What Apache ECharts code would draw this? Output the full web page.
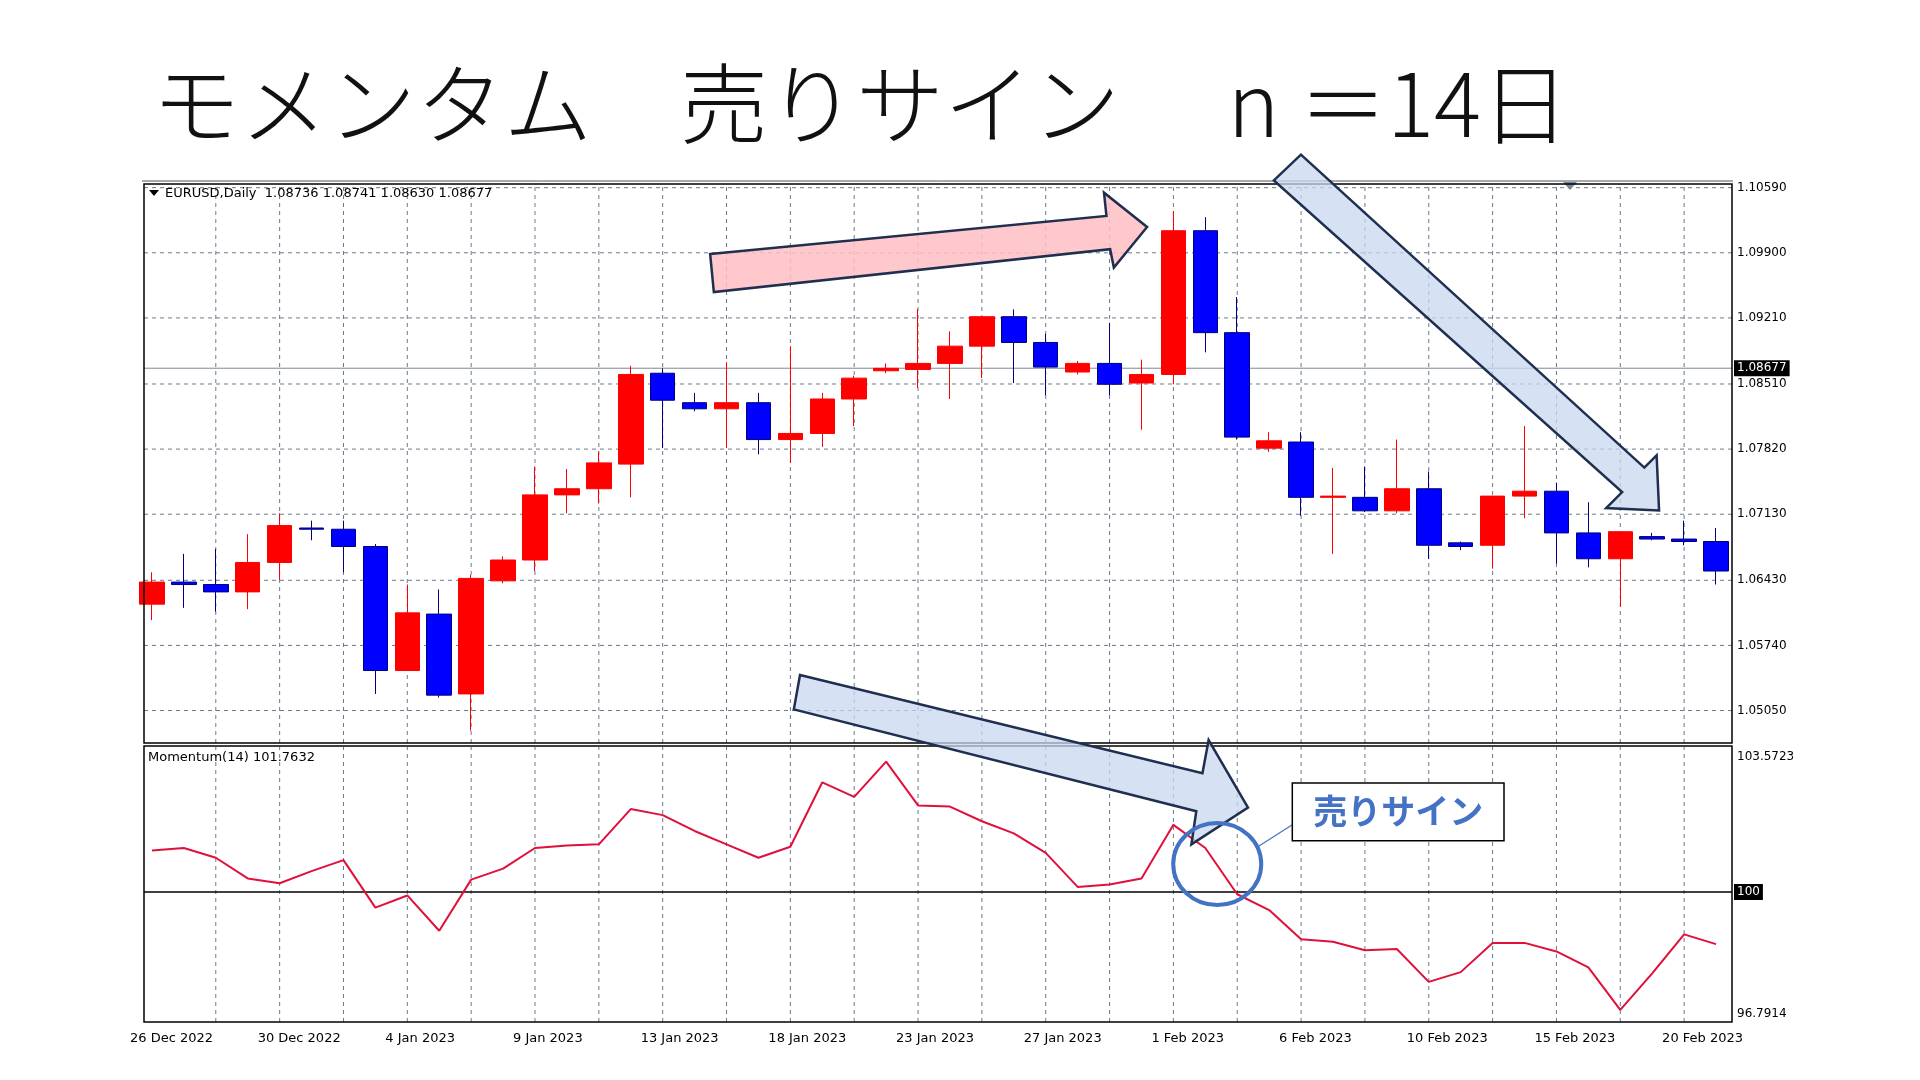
<!DOCTYPE html>
<html><head><meta charset="utf-8">
<script src="https://cdn.jsdelivr.net/npm/echarts@6/dist/echarts.min.js"></script>
<style>html,body{margin:0;padding:0;background:#fff}#c{width:1920px;height:1080px}</style>
</head><body><div id="c"></div>
<script>
const categories = ['26 Dec 2022','27 Dec 2022','28 Dec 2022','29 Dec 2022','30 Dec 2022','1 Jan 2023','2 Jan 2023','3 Jan 2023',
'4 Jan 2023','5 Jan 2023','6 Jan 2023','8 Jan 2023','9 Jan 2023','10 Jan 2023','11 Jan 2023','12 Jan 2023',
'13 Jan 2023','15 Jan 2023','16 Jan 2023','17 Jan 2023','18 Jan 2023','19 Jan 2023','20 Jan 2023','22 Jan 2023',
'23 Jan 2023','24 Jan 2023','25 Jan 2023','26 Jan 2023','27 Jan 2023','29 Jan 2023','30 Jan 2023','31 Jan 2023',
'1 Feb 2023','2 Feb 2023','3 Feb 2023','5 Feb 2023','6 Feb 2023','7 Feb 2023','8 Feb 2023','9 Feb 2023',
'10 Feb 2023','12 Feb 2023','13 Feb 2023','14 Feb 2023','15 Feb 2023','16 Feb 2023','17 Feb 2023','19 Feb 2023',
'20 Feb 2023','21 Feb 2023'];
// [open, close, low, high]
const ohlc = [
[1.06177,1.06411,1.06007,1.06515],[1.06411,1.06385,1.06138,1.06710],[1.06385,1.06307,1.06098,1.06762],
[1.06307,1.06619,1.06124,1.06919],[1.06619,1.07010,1.06437,1.07140],[1.06984,1.06971,1.06854,1.07062],
[1.06971,1.06788,1.06515,1.07062],[1.06788,1.05474,1.05226,1.06814],[1.05474,1.06085,1.05474,1.06385],
[1.06072,1.05213,1.05187,1.06333],[1.05226,1.06450,1.04836,1.06489],[1.06424,1.06645,1.06398,1.06684],
[1.06645,1.07335,1.06528,1.07635],[1.07335,1.07400,1.07140,1.07609],[1.07400,1.07674,1.07244,1.07791],
[1.07661,1.08611,1.07309,1.08702],[1.08624,1.08338,1.07830,1.08676],[1.08312,1.08247,1.08221,1.08416],
[1.08247,1.08312,1.07830,1.08741],[1.08312,1.07921,1.07765,1.08416],[1.07921,1.07986,1.07674,1.08911],
[1.07986,1.08351,1.07843,1.08416],[1.08351,1.08572,1.08064,1.08598],[1.08650,1.08676,1.08624,1.08728],
[1.08663,1.08728,1.08468,1.09301],[1.08728,1.08911,1.08351,1.09067],[1.08911,1.09223,1.08572,1.09223],
[1.09223,1.08950,1.08520,1.09301],[1.08950,1.08689,1.08390,1.09041],[1.08637,1.08728,1.08611,1.08754],
[1.08728,1.08507,1.08390,1.09158],[1.08520,1.08611,1.08025,1.08767],[1.08611,1.10134,1.08507,1.10343],
[1.10134,1.09054,1.08845,1.10278],[1.09054,1.07947,1.07921,1.09431],[1.07830,1.07908,1.07791,1.07999],
[1.07895,1.07309,1.07114,1.07999],[1.07309,1.07322,1.06710,1.07622],[1.07309,1.07166,1.07153,1.07635],
[1.07166,1.07400,1.07140,1.07921],[1.07400,1.06801,1.06658,1.07583],[1.06827,1.06788,1.06749,1.06841],
[1.06801,1.07322,1.06554,1.07322],[1.07322,1.07374,1.07088,1.08064],[1.07374,1.06932,1.06606,1.07465],
[1.06932,1.06658,1.06567,1.07257],[1.06658,1.06945,1.06151,1.06945],[1.06893,1.06867,1.06854,1.06932],
[1.06867,1.06841,1.06801,1.07062],[1.06841,1.06528,1.06385,1.06984]];
const momentum = [101.098,101.162,100.905,100.359,100.230,100.551,100.841,99.587,99.909,98.977,
100.326,100.616,101.162,101.226,101.258,102.190,102.030,101.612,101.258,100.905,
101.194,102.897,102.512,103.444,102.287,102.255,101.869,101.548,101.034,100.134,
100.198,100.359,101.773,101.162,99.941,99.523,98.752,98.688,98.463,98.495,
97.627,97.884,98.656,98.656,98.431,98.012,96.888,97.852,98.880,98.623];
const priceTicks = [1.10590,1.09900,1.09210,1.08510,1.07820,1.07130,1.06430,1.05740,1.05050];
const currentPrice = 1.08677;
const momTicks = ['103.5723','96.7914'];
const momLevel = 100;

const PMIN=1.04706, PMAX=1.10629, MMIN=96.567, MMAX=103.829;
const sx = 1920/1560, sy = 1080/880;
const P = pts => pts.map(p=>[p[0]*sx,p[1]*sy]);
const grayDash = {color:'#6b7a8c',type:[4,4],width:1};
const lab = {fontFamily:'DejaVu Sans',fontSize:12,color:'#000'};

const series = [];
categories.forEach((c,i)=>{
  if(i>0 && i%2===0){
    series.push({type:'line',xAxisIndex:0,yAxisIndex:0,data:[[c,PMIN],[c,PMAX]],symbol:'none',lineStyle:grayDash,silent:true,z:1});
    series.push({type:'line',xAxisIndex:1,yAxisIndex:1,data:[[c,MMIN],[c,MMAX]],symbol:'none',lineStyle:grayDash,silent:true,z:1});
  }
});
const hline = (ax, v, style, label, z) => ({type:'line',xAxisIndex:ax,yAxisIndex:ax,data:[[0,v],[1,v]],symbol:'none',lineStyle:style,silent:true,z:z||1,
  endLabel:{show:true,distance:label.distance||5,formatter:()=>label.text,...lab,...(label.style||{})}});
priceTicks.forEach(v=>series.push(hline(2,v,grayDash,{text:v.toFixed(5)})));
series.push(hline(2,currentPrice,{color:'#7a8a9a',width:1,type:'solid'},{text:currentPrice.toFixed(5),distance:2,style:{color:'#fff',backgroundColor:'#000',padding:[2,3]}},2));
series.push(hline(3,momLevel,{color:'#000',width:1.5,type:'solid'},{text:'100',distance:2,style:{color:'#fff',backgroundColor:'#000',padding:[2,3]}},2));
momTicks.forEach(t=>series.push(hline(3,Number(t),{opacity:0},{text:t})));
series.push({type:'candlestick',xAxisIndex:0,yAxisIndex:0,data:ohlc,barWidth:25,z:5,
  itemStyle:{color:'#ff0000',color0:'#0000ff',borderColor:'#ff0000',borderColor0:'#000080',borderWidth:1}});
series.push({type:'line',xAxisIndex:1,yAxisIndex:1,data:momentum,symbol:'none',lineStyle:{color:'#e0103a',width:2},z:5});

const chart = echarts.init(document.getElementById('c'));
chart.setOption({
  animation:false, backgroundColor:'#fff',
  grid:[{left:136,width:1596,top:184,height:559},{left:136,width:1596,top:747,height:275},
        {left:144,width:1588,top:184,height:559},{left:144,width:1588,top:747,height:275}],
  xAxis:[
    {type:'category',data:categories,gridIndex:0,axisLine:{show:false},axisTick:{show:false},axisLabel:{show:false},splitLine:{show:false}},
    {type:'category',data:categories,gridIndex:1,axisLine:{show:false},axisTick:{show:false},splitLine:{show:false},
     axisLabel:{interval:3,align:'left',margin:10,padding:[0,0,0,-22],...lab,fontSize:13}},
    {type:'value',gridIndex:2,min:0,max:1,show:false},
    {type:'value',gridIndex:3,min:0,max:1,show:false}
  ],
  yAxis:[
    {type:'value',gridIndex:0,min:PMIN,max:PMAX,show:false},
    {type:'value',gridIndex:1,min:MMIN,max:MMAX,show:false},
    {type:'value',gridIndex:2,min:PMIN,max:PMAX,show:false},
    {type:'value',gridIndex:3,min:MMIN,max:MMAX,show:false}
  ],
  series,
  graphic:[
    {type:'text',left:152,top:60,style:{text:'モメンタム　売りサイン　 n ＝14日',font:'300 88px "Noto Sans CJK JP"',fill:'#111'}},
    {type:'line',shape:{x1:142,y1:181,x2:1733,y2:181},style:{stroke:'#555',lineWidth:1}},
    {type:'rect',shape:{x:144,y:184,width:1588,height:559},style:{fill:'none',stroke:'#000',lineWidth:1.5},z:10},
    {type:'rect',shape:{x:144,y:746,width:1588,height:276},style:{fill:'none',stroke:'#000',lineWidth:1.5},z:10},
    {type:'polygon',shape:{points:[[1563,182],[1577,182],[1570,190]]},style:{fill:'#7a8a9a'}},
    {type:'polygon',shape:{points:[[149,190],[159,190],[154,196]]},style:{fill:'#000'},z:11},
    {type:'text',left:165,top:187,style:{text:'EURUSD,Daily  1.08736 1.08741 1.08630 1.08677',font:'13px "DejaVu Sans"',fill:'#000'},z:11},
    {type:'text',left:148,top:751,style:{text:'Momentum(14) 101.7632',font:'13px "DejaVu Sans"',fill:'#000'},z:11},
    {type:'polygon',z:20,shape:{points:P([[577,207],[899,176],[897,157],[932,185],[905,218],[902,203],[580,238]])},
     style:{fill:'rgba(255,190,195,0.85)',stroke:'#1f2f4f',lineWidth:2.5}},
    {type:'polygon',z:20,shape:{points:P([[1057,126],[1336,381],[1346,371],[1348,416],[1305,414],[1318,401],[1035,147]])},
     style:{fill:'rgba(200,215,240,0.75)',stroke:'#1f2f4f',lineWidth:2.5}},
    {type:'polygon',z:20,shape:{points:P([[650,550],[977,630],[982,603],[1014,658],[968,688],[972,661],[645,578]])},
     style:{fill:'rgba(200,215,240,0.75)',stroke:'#1f2f4f',lineWidth:2.5}},
    {type:'ellipse',z:21,shape:{cx:989*sx,cy:704*sy,rx:44,ry:41},style:{fill:'none',stroke:'#4472c4',lineWidth:4}},
    {type:'line',z:21,shape:{x1:1050*sx,y1:672*sy,x2:1022*sx,y2:690*sy},style:{stroke:'#4472c4',lineWidth:1.2}},
    {type:'rect',z:21,shape:{x:1050*sx,y:638*sy,width:172*sx,height:47*sy},style:{fill:'#fff',stroke:'#000',lineWidth:1.5}},
    {type:'text',z:22,x:1136*sx,y:661*sy,style:{text:'売りサイン',font:'bold 34px "Noto Sans CJK JP"',fill:'#4472c4',align:'center',verticalAlign:'middle'}}
  ]
});
</script></body></html>
